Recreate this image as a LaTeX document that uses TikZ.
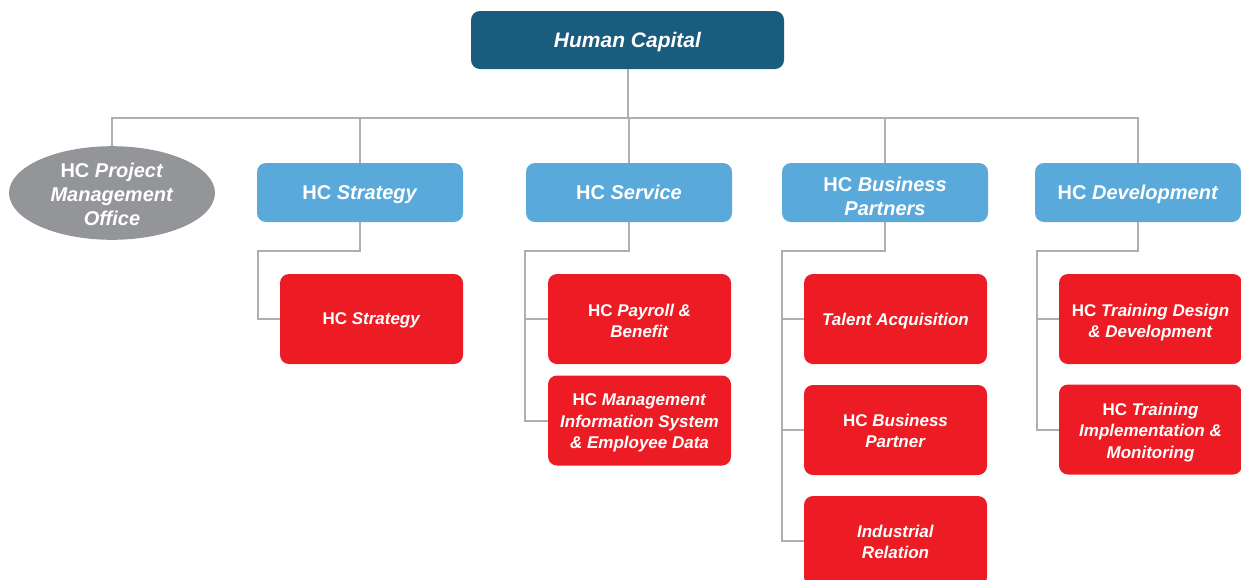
\documentclass[tikz,border=0pt]{standalone}
\usepackage{fontspec}
\setmainfont{Liberation Sans}
\usetikzlibrary{shapes.geometric}
\definecolor{hcdark}{HTML}{1A5C7E}
\definecolor{hcblue}{HTML}{59A9DA}
\definecolor{hcred}{HTML}{ED1C24}
\definecolor{hcgrey}{HTML}{939598}
\definecolor{hcline}{HTML}{ADAFB2}
\newcommand{\hcstrut}[1]{\rule{0pt}{#1}}
\tikzset{
  topbox/.style={rectangle, rounded corners=9pt, fill=hcdark, text=white, minimum width=313pt, minimum height=58pt, inner sep=0pt, text depth=0pt, align=center, font=\bfseries\itshape\fontsize{21pt}{25pt}\selectfont},
  bluebox/.style={rectangle, rounded corners=9pt, fill=hcblue, text=white, minimum width=206pt, minimum height=59pt, inner sep=0pt, text depth=0pt, align=center, font=\bfseries\fontsize{20pt}{24pt}\selectfont},
  ovalbox/.style={ellipse, fill=hcgrey, text=white, minimum width=206pt, minimum height=93pt, inner sep=0pt, align=center, font=\bfseries\fontsize{20pt}{24pt}\selectfont},
  redbox/.style={rectangle, rounded corners=9pt, fill=hcred, text=white, minimum width=183pt, minimum height=90pt, inner sep=0pt, text depth=0pt, align=center, font=\bfseries\fontsize{17pt}{21.5pt}\selectfont},
  conn/.style={draw=hcline, line width=2pt}
}
\begin{document}
\begin{tikzpicture}[x=1pt,y=1pt]
\useasboundingbox (0,0) rectangle (1241,-579);
\clip (0,0) rectangle (1241,-579);
% top
\node[topbox] (hc) at (627.5,-40) {Human Capital};
% level 2
\node[ovalbox] (pmo) at (112,-193) {\hcstrut{18pt}HC \textit{Project}\\\textit{Management}\\\textit{Office}};
\node[bluebox] (str) at (360,-192.5) {HC \textit{Strategy}};
\node[bluebox] (svc) at (629,-192.5) {HC \textit{Service}};
\node[bluebox] (bp) at (885,-192.5) {\hcstrut{22pt}HC \textit{Business}\\\textit{Partners}};
\node[bluebox] (dev) at (1138,-192.5) {HC \textit{Development}};
% level 3
\node[redbox] (strA) at (371.5,-319) {HC \textit{Strategy}};
\node[redbox] (svA1) at (639.5,-319) {\hcstrut{15.5pt}HC \textit{Payroll \&}\\\textit{Benefit}};
\node[redbox] (svA2) at (639.5,-420.5) {\hcstrut{13pt}HC \textit{Management}\\\textit{Information System}\\\textit{\& Employee Data}};
\node[redbox] (bpA1) at (895.5,-319) {\textit{Talent Acquisition}};
\node[redbox] (bpA2) at (895.5,-430) {\hcstrut{14pt}HC \textit{Business}\\\textit{Partner}};
\node[redbox] (bpA3) at (895.5,-541) {\hcstrut{14pt}\textit{Industrial}\\\textit{Relation}};
\node[redbox] (dvA1) at (1150.5,-319) {\hcstrut{15.5pt}HC \textit{Training Design}\\\textit{\& Development}};
\node[redbox] (dvA2) at (1150.5,-429.5) {\hcstrut{14pt}HC \textit{Training}\\\textit{Implementation \&}\\\textit{Monitoring}};
% bus
\coordinate (bus) at (628,-118);
\draw[conn] (hc.south) -- (hc.south |- bus);
\draw[conn] (pmo.north) |- (dev.north |- bus) -- (dev.north);
\draw[conn] (str.north) -- (str.north |- bus);
\draw[conn] (svc.north) -- (svc.north |- bus);
\draw[conn] (bp.north) -- (bp.north |- bus);
% strategy subtree
\coordinate (sE) at (258,-251);
\draw[conn] (str.south) |- (sE) |- (strA.west);
% service subtree
\coordinate (vE) at (525,-251);
\draw[conn] (svc.south) |- (vE) |- (svA2.west);
\draw[conn] (vE |- svA1.west) -- (svA1.west);
% business partner subtree
\coordinate (bE) at (782,-251);
\draw[conn] (bp.south) |- (bE) |- (bpA3.west);
\draw[conn] (bE |- bpA1.west) -- (bpA1.west);
\draw[conn] (bE |- bpA2.west) -- (bpA2.west);
% development subtree
\coordinate (dE) at (1037,-251);
\draw[conn] (dev.south) |- (dE) |- (dvA2.west);
\draw[conn] (dE |- dvA1.west) -- (dvA1.west);
\end{tikzpicture}
\end{document}
